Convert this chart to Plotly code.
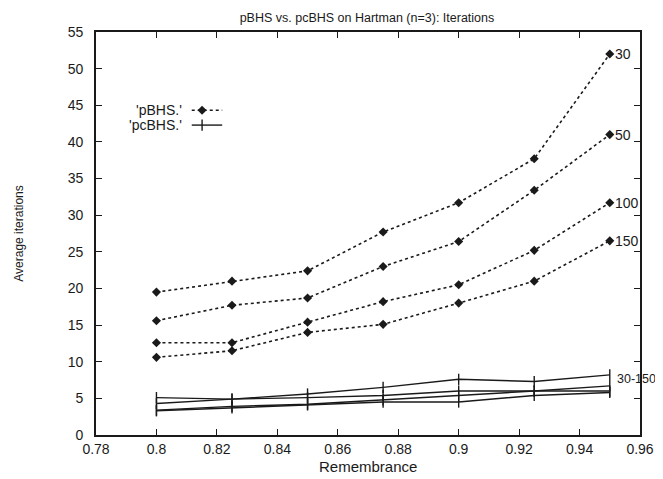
import plotly.graph_objects as go

# ---- data ----
remembrance = [0.8, 0.825, 0.85, 0.875, 0.9, 0.925, 0.95]

pbhs_30 = [19.5, 21.0, 22.4, 27.7, 31.7, 37.7, 52.0]
pbhs_50 = [15.6, 17.7, 18.7, 23.0, 26.4, 33.4, 41.0]
pbhs_100 = [12.6, 12.6, 15.4, 18.2, 20.5, 25.2, 31.7]
pbhs_150 = [10.6, 11.5, 14.0, 15.1, 18.0, 21.0, 26.5]

pcbhs_30 = [5.1, 4.9, 5.6, 6.5, 7.6, 7.3, 8.2]
pcbhs_50 = [4.3, 4.9, 5.1, 5.4, 6.0, 6.0, 6.7]
pcbhs_100 = [3.4, 3.9, 4.2, 4.8, 5.4, 6.0, 6.0]
pcbhs_150 = [3.3, 3.7, 4.1, 4.5, 4.5, 5.4, 5.8]

pbhs_labels = ["30", "50", "100", "150"]
pcbhs_label = "30-150"
legend_names = ["'pBHS.'", "'pcBHS.'"]

x_ticks = [0.78, 0.8, 0.82, 0.84, 0.86, 0.88, 0.9, 0.92, 0.94, 0.96]
x_ticktext = ["0.78", "0.8", "0.82", "0.84", "0.86", "0.88", "0.9", "0.92", "0.94", "0.96"]
y_ticks = list(range(0, 60, 5))

title_text = "pBHS vs. pcBHS on Hartman (n=3): Iterations"
x_title = "Remembrance"
y_title = "Average iterations"

# ---- style ----
INK = "#1a1a1a"
FONT = "Liberation Sans, Arial, sans-serif"

fig = go.Figure()

pbhs_series = [pbhs_30, pbhs_50, pbhs_100, pbhs_150]
pcbhs_series = [pcbhs_30, pcbhs_50, pcbhs_100, pcbhs_150]

PLUS = dict(symbol="line-ns-open", size=8, color=INK, line=dict(color=INK, width=1.4))
DIAMOND = dict(symbol="diamond", size=7, color=INK, line=dict(width=0))

for ys in pbhs_series:
    fig.add_trace(go.Scatter(
        x=remembrance, y=ys, mode="lines+markers",
        line=dict(color=INK, width=1.6, dash="dot"),
        marker=DIAMOND, showlegend=False, hoverinfo="skip"))

for ys in pcbhs_series:
    fig.add_trace(go.Scatter(
        x=remembrance, y=ys, mode="lines+markers",
        line=dict(color=INK, width=1.4),
        marker=PLUS, showlegend=False, hoverinfo="skip"))

# end labels
annos = []
for ys, lab in zip(pbhs_series, pbhs_labels):
    annos.append(dict(x=remembrance[-1], y=ys[-1], xref="x", yref="y", text=lab,
                      showarrow=False, xanchor="left", xshift=3,
                      font=dict(family=FONT, size=14, color=INK)))
annos.append(dict(x=remembrance[-1], y=pcbhs_30[-1], xref="x", yref="y", text=pcbhs_label,
                  showarrow=False, xanchor="left", xshift=5, yshift=-4,
                  font=dict(family=FONT, size=12.5, color=INK)))

# axis titles
annos.append(dict(x=0.5, y=-0.079, xref="paper", yref="paper", text=x_title,
                  showarrow=False, xanchor="center", yanchor="middle",
                  font=dict(family=FONT, size=15, color=INK)))
annos.append(dict(x=-0.143, y=0.5, xref="paper", yref="paper", text=y_title,
                  showarrow=False, xanchor="center", yanchor="middle", textangle=-90,
                  font=dict(family=FONT, size=12, color=INK)))

# custom legend (text left of key, as in the original)
leg_y = [0.806, 0.769]
for name, yy in zip(legend_names, leg_y):
    annos.append(dict(x=0.162, y=yy, xref="paper", yref="paper", text=name,
                      showarrow=False, xanchor="right", yanchor="middle",
                      font=dict(family=FONT, size=14, color=INK)))

# legend keys on an auxiliary unit axis
fig.add_trace(go.Scatter(x=[0.176, 0.232], y=[leg_y[0]] * 2, mode="lines",
                         line=dict(color=INK, width=1.6, dash="dot"),
                         xaxis="x2", yaxis="y2", showlegend=False, hoverinfo="skip"))
fig.add_trace(go.Scatter(x=[0.195], y=[leg_y[0]], mode="markers", marker=DIAMOND,
                         xaxis="x2", yaxis="y2", showlegend=False, hoverinfo="skip"))
fig.add_trace(go.Scatter(x=[0.176, 0.232], y=[leg_y[1]] * 2, mode="lines",
                         line=dict(color=INK, width=1.4),
                         xaxis="x2", yaxis="y2", showlegend=False, hoverinfo="skip"))
fig.add_trace(go.Scatter(x=[0.195], y=[leg_y[1]], mode="markers", marker=PLUS,
                         xaxis="x2", yaxis="y2", showlegend=False, hoverinfo="skip"))

# the page body has an 8px default margin, so the figure is 8px smaller
# and shifted so the plot area lands where the original's does
fig.update_layout(
    width=655, height=471,
    margin=dict(l=88, r=23, t=24, b=44, autoexpand=False),
    paper_bgcolor="white", plot_bgcolor="white",
    font=dict(family=FONT, size=13, color=INK),
    title=dict(text=title_text, x=0.548, xanchor="center", y=0.979, yanchor="middle",
               font=dict(family=FONT, size=12.5, color=INK)),
    showlegend=False,
    annotations=annos,
    xaxis=dict(range=[0.78, 0.96], tickvals=x_ticks, ticktext=x_ticktext, automargin=False,
               showgrid=False, zeroline=False, showline=True, linecolor=INK, linewidth=1.6,
               mirror="ticks", ticks="inside", ticklen=6, tickcolor=INK, tickwidth=1.3,
               tickfont=dict(family=FONT, size=14, color=INK), ticklabelstandoff=0),
    yaxis=dict(range=[0, 55], tickvals=y_ticks, automargin=False,
               showgrid=False, zeroline=False, showline=True, linecolor=INK, linewidth=1.6,
               mirror="ticks", ticks="inside", ticklen=6, tickcolor=INK, tickwidth=1.3,
               tickfont=dict(family=FONT, size=14, color=INK), ticklabelstandoff=8),
    xaxis2=dict(range=[0, 1], overlaying="x", visible=False, fixedrange=True),
    yaxis2=dict(range=[0, 1], overlaying="y", visible=False, fixedrange=True),
)

fig.write_html("out.html")
